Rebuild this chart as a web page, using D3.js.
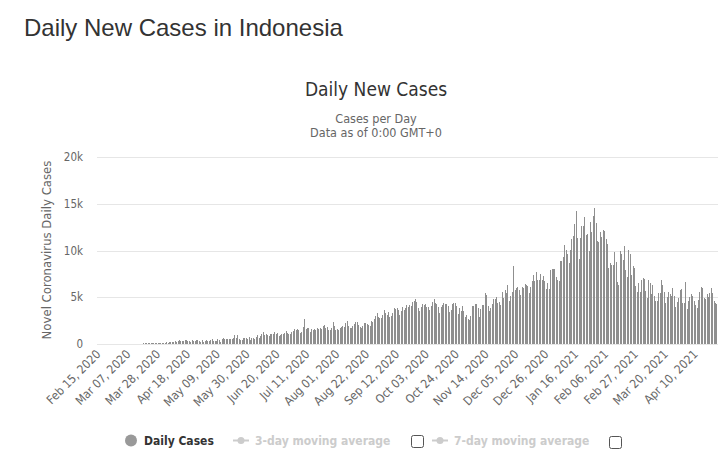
<!DOCTYPE html>
<html>
<head>
<meta charset="utf-8">
<script src="https://cdn.jsdelivr.net/npm/d3@7"></script>
<style>
  html, body { margin: 0; padding: 0; background: #fff; }
  svg { display: block; }
</style>
</head>
<body>
<svg id="chart" width="725" height="463"></svg>
<script>
// ---------- DATA (daily new cases, Feb 15 2020 – Apr 25 2021) ----------
const startDate = "2020-02-15";
const feb20 = [0,0,0,0,0,0,0,0,0,0,0,0,0,0,0];
const mar20 = [0,2,0,0,0,2,0,2,13,8,7,1,35,27,21,17,38,55,82,60,81,64,65,107,104,103,153,109,130,129,114];
const apr20 = [149,113,196,106,181,218,247,218,337,219,330,399,316,282,297,380,407,325,327,185,375,283,357,436,396,275,214,415,260,347];
const may20 = [433,292,349,395,484,367,338,336,533,387,233,484,689,568,490,529,489,496,486,693,973,634,949,526,479,415,686,687,678,557,700];
const jun20 = [467,609,684,585,703,993,672,847,1043,1241,979,1111,1014,857,1017,1106,1031,1331,1041,1226,862,954,1051,1113,1178,1385,1198,1082,1082,1293];
const jul20 = [1385,1624,1447,1607,1447,1209,1268,1853,2657,1611,1671,1681,1282,1591,1522,1574,1462,1752,1639,1693,1655,1882,2040,1761,1868,1492,1525,1748,2381,1904,1519];
const aug20 = [1560,1519,1679,1815,1922,1815,2277,2473,1893,1687,1693,1942,2098,2307,2345,2081,1821,1673,1902,2266,2197,2090,2037,1877,2447,2306,2719,3003,3308,2858,2743];
const sep20 = [2775,3075,3622,3269,3128,3444,2880,3046,3307,3861,3737,3806,3636,3141,3507,3963,3635,3891,4168,3989,4176,4071,4465,4634,4823,4494,3874,3509,4002,4284];
const oct20 = [4174,4317,4007,3992,3622,4056,4538,4850,4369,4294,3906,3267,3906,4127,4411,4301,4301,4105,3373,3602,4267,4432,4369,4070,3222,3829,3520,4029,3565,2897,3143];
const nov20 = [2696,2618,2973,4065,4065,4262,4262,3880,2853,3779,4173,4173,5444,5272,4106,3535,3807,4265,4798,4792,4998,4360,4442,4192,5534,4917,5828,5418,6267,4617];
const dec20 = [5092,5533,8369,5803,6027,6089,5754,5292,6058,6033,6388,6310,6189,5489,6120,6725,7354,6689,7751,6848,6848,7445,6808,7259,6725,5854,6528,5854,7903,8002,8074];
const jan21 = [8072,7203,6877,6753,8854,8854,9321,10617,10046,9640,8692,10047,11278,11557,12818,14224,11287,9086,11287,12568,12568,13632,11703,11788,9994,13094,11948,13695,14518,12984,10994];
const feb21 = [10868,11984,11434,12156,12100,11200,10700,8100,8700,8400,8400,9800,8800,6600,6300,10000,9600,9000,10500,7900,7200,10100,9600,7400,8300,8100,6200,5600];
const mar21 = [6500,5600,6800,7100,6900,5700,4900,6800,6500,5300,6300,5100,4600,4600,5500,5500,6800,6300,5600,4400,5000,5600,5300,5100,6000,5100,4000,4500,4900,5800,5900];
const apr21 = [4400,4400,6600,3700,4600,5000,5300,5100,4600,4200,3900,4700,5600,6100,6000,4900,4800,5300,5000,5500,6000,5500,4600,4400,4300];

const yTicks = [0, 5000, 10000, 15000, 20000];
const yTickLabels = ["0", "5k", "10k", "15k", "20k"];
const xTickLabels = ["Feb 15, 2020","Mar 07, 2020","Mar 28, 2020","Apr 18, 2020","May 09, 2020","May 30, 2020",
  "Jun 20, 2020","Jul 11, 2020","Aug 01, 2020","Aug 22, 2020","Sep 12, 2020","Oct 03, 2020","Oct 24, 2020",
  "Nov 14, 2020","Dec 05, 2020","Dec 26, 2020","Jan 16, 2021","Feb 06, 2021","Feb 27, 2021","Mar 20, 2021","Apr 10, 2021"];

const values = [].concat(feb20, mar20, apr20, may20, jun20, jul20, aug20, sep20, oct20, nov20, dec20, jan21, feb21, mar21, apr21);
const fmt = d3.timeFormat("%b %d, %Y");
const parse = d3.timeParse("%Y-%m-%d");
const t0 = parse(startDate);
const cats = values.map((v, i) => fmt(d3.timeDay.offset(t0, i)));
const data = values.map((v, i) => ({ cat: cats[i], v }));

// ---------- DRAW ----------
const F = "'DejaVu Sans Condensed','DejaVu Sans',sans-serif";
const svg = d3.select("#chart");

svg.append("text").attr("x", 24).attr("y", 36)
  .attr("font-family", "'Liberation Sans',Arial,Helvetica,sans-serif")
  .attr("font-size", 24).attr("fill", "#333").text("Daily New Cases in Indonesia");

svg.append("text").attr("x", 376).attr("y", 96).attr("text-anchor", "middle")
  .attr("font-family", F).attr("font-stretch", "condensed").attr("font-size", 19).attr("fill", "#333").text("Daily New Cases");
svg.append("text").attr("x", 376).attr("y", 123).attr("text-anchor", "middle")
  .attr("font-family", F).attr("font-stretch", "condensed").attr("font-size", 12.5).attr("fill", "#666").text("Cases per Day");
svg.append("text").attr("x", 376).attr("y", 137).attr("text-anchor", "middle")
  .attr("font-family", F).attr("font-stretch", "condensed").attr("font-size", 12.5).attr("fill", "#666").text("Data as of 0:00 GMT+0");

const x = d3.scaleBand().domain(cats).range([97.7, 717.7]).paddingInner(0.3).paddingOuter(0.15);
const y = d3.scaleLinear().domain([0, 20000]).range([344, 157]);

// gridlines
svg.append("g").selectAll("line").data(yTicks).join("line")
  .attr("x1", 97).attr("x2", 718)
  .attr("y1", d => Math.round(y(d)) + 0.5).attr("y2", d => Math.round(y(d)) + 0.5)
  .attr("stroke", "#e6e6e6").attr("stroke-width", 1);

// y tick labels
svg.append("g").selectAll("text").data(yTicks).join("text")
  .attr("x", 83).attr("y", d => y(d) + 4).attr("text-anchor", "end")
  .attr("font-family", F).attr("font-stretch", "condensed").attr("font-size", 11.5).attr("fill", "#666")
  .text((d, i) => yTickLabels[i]);

// y axis title
svg.append("text").attr("transform", "translate(51,250) rotate(-90)").attr("text-anchor", "middle")
  .attr("font-family", F).attr("font-stretch", "condensed").attr("font-size", 13).attr("fill", "#666")
  .text("Novel Coronavirus Daily Cases");

// bars (crisp 1px columns, like the original renderer)
const bw = x.bandwidth();
svg.append("g").attr("shape-rendering", "crispEdges").selectAll("rect").data(data).join("rect")
  .attr("x", d => Math.round(x(d.cat) + bw / 2 - 0.5)).attr("width", 1)
  .attr("y", d => Math.round(y(d.v))).attr("height", d => Math.round(y(0)) - Math.round(y(d.v)))
  .attr("fill", "#8f8f8f");

// x tick labels
const xa = svg.append("g");
xTickLabels.forEach(lbl => {
  const cx = x(lbl) + bw / 2;
  xa.append("text").attr("transform", `translate(${cx + 3},${355}) rotate(-45)`)
    .attr("text-anchor", "end")
    .attr("font-family", F).attr("font-stretch", "condensed").attr("font-size", 12).attr("fill", "#666")
    .text(lbl);
});

// legend
const lg = svg.append("g").attr("font-family", F).attr("font-stretch", "condensed").attr("font-size", 12).attr("font-weight", "bold");
lg.append("circle").attr("cx", 131).attr("cy", 440.5).attr("r", 6).attr("fill", "#999");
lg.append("text").attr("x", 144).attr("y", 445).attr("fill", "#333").text("Daily Cases");

lg.append("line").attr("x1", 233).attr("x2", 249).attr("y1", 440.5).attr("y2", 440.5).attr("stroke", "#ccc").attr("stroke-width", 2);
lg.append("circle").attr("cx", 241).attr("cy", 440.5).attr("r", 3.5).attr("fill", "#ccc");
lg.append("text").attr("x", 255).attr("y", 445).attr("fill", "#ccc").text("3-day moving average");
lg.append("rect").attr("x", 411.5).attr("y", 435.5).attr("width", 12).attr("height", 12).attr("rx", 2)
  .attr("fill", "#fff").attr("stroke", "#555");

lg.append("line").attr("x1", 432).attr("x2", 448).attr("y1", 440.5).attr("y2", 440.5).attr("stroke", "#ccc").attr("stroke-width", 2);
lg.append("circle").attr("cx", 440).attr("cy", 440.5).attr("r", 3.5).attr("fill", "#ccc");
lg.append("text").attr("x", 454).attr("y", 445).attr("fill", "#ccc").text("7-day moving average");
lg.append("rect").attr("x", 609.5).attr("y", 436.5).attr("width", 12).attr("height", 12).attr("rx", 2)
  .attr("fill", "#fff").attr("stroke", "#555");
</script>
</body>
</html>
